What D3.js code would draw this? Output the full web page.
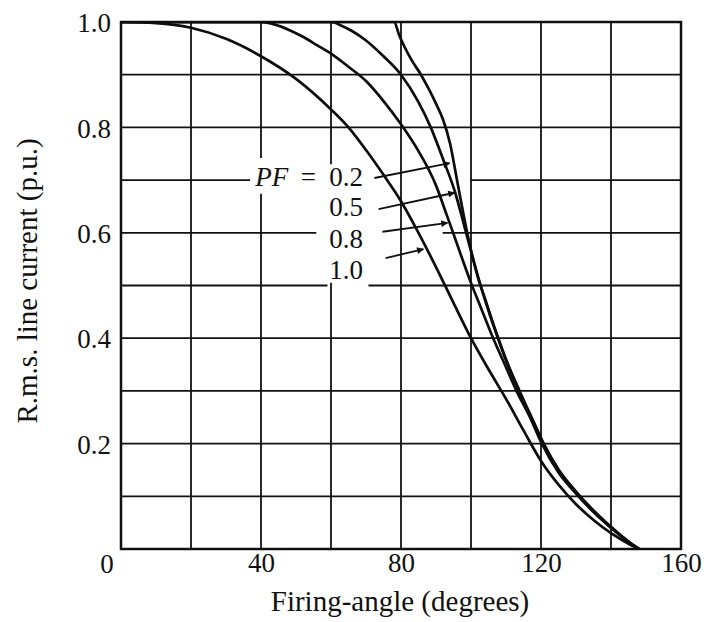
<!DOCTYPE html>
<html>
<head>
<meta charset="utf-8">
<script src="https://cdn.jsdelivr.net/npm/d3@7"></script>
<style>
  html, body { margin: 0; padding: 0; background: #fff; }
  svg { display: block; }
  text { font-family: "Liberation Serif", "Times New Roman", serif; fill: #111; }
</style>
</head>
<body>
<svg id="chart" width="709" height="622"></svg>
<script>
// ---------------- data ----------------
const xTickValues = [40, 80, 120, 160];
const yTickValues = [0.2, 0.4, 0.6, 0.8, 1.0];
const xGridValues = [20, 40, 60, 80, 100, 120, 140];
const yGridValues = [0.1, 0.2, 0.3, 0.4, 0.5, 0.6, 0.7, 0.8, 0.9];

// PF = 1.0
const pf10Angle   = [0, 10, 20, 30, 40, 50, 60, 65, 70, 75, 80, 85, 90, 95, 100, 105, 110, 115, 120, 125, 130, 135, 140, 145, 148];
const pf10Current = [1.0, 0.998, 0.989, 0.968, 0.935, 0.892, 0.834, 0.80, 0.757, 0.71, 0.66, 0.60, 0.535, 0.467, 0.40, 0.341, 0.285, 0.225, 0.167, 0.122, 0.085, 0.055, 0.03, 0.01, 0];
// PF = 0.8
const pf08Angle   = [0, 20, 40, 44, 48, 52, 56, 60, 65, 70, 75, 80, 85, 90, 93, 95, 97, 100, 103, 106, 110, 113, 117, 120, 125, 130, 135, 140, 145, 148];
const pf08Current = [1.0, 1.0, 1.0, 0.995, 0.985, 0.972, 0.956, 0.94, 0.915, 0.888, 0.85, 0.806, 0.755, 0.69, 0.635, 0.598, 0.56, 0.505, 0.455, 0.405, 0.345, 0.30, 0.248, 0.203, 0.145, 0.105, 0.07, 0.04, 0.013, 0];
// PF = 0.5
const pf05Angle   = [0, 20, 40, 60, 63, 66, 70, 75, 80, 85, 88.5, 92, 95.5, 98, 100, 102, 104, 107, 110, 114, 118, 121, 125, 130, 135, 140, 145, 148];
const pf05Current = [1.0, 1.0, 1.0, 1.0, 0.993, 0.983, 0.965, 0.935, 0.90, 0.848, 0.80, 0.74, 0.676, 0.615, 0.565, 0.515, 0.475, 0.415, 0.36, 0.298, 0.24, 0.197, 0.15, 0.108, 0.072, 0.041, 0.014, 0];
// PF = 0.2
const pf02Angle   = [0, 20, 40, 60, 78, 79.5, 81, 83, 85.7, 88, 90, 92, 94, 96, 98, 100, 102, 104, 107, 110, 114, 118, 121, 125, 130, 135, 140, 145, 148];
const pf02Current = [1.0, 1.0, 1.0, 1.0, 1.0, 0.975, 0.953, 0.928, 0.90, 0.872, 0.845, 0.815, 0.77, 0.70, 0.63, 0.567, 0.517, 0.473, 0.413, 0.358, 0.296, 0.238, 0.196, 0.151, 0.109, 0.073, 0.042, 0.014, 0];

const seriesNames = ["0.2", "0.5", "0.8", "1.0"];
// arrows (data coordinates): tail and head for each label
const arrowTailAngle = [72.4, 73.6, 74.7, 75.6];
const arrowTailValue = [0.704, 0.645, 0.602, 0.552];
const arrowHeadAngle = [93.9, 95.3, 93.3, 86.4];
const arrowHeadValue = [0.732, 0.676, 0.619, 0.569];
// label anchor (data coordinates)
const labelAngle = 59.5;
const labelValue = [0.689, 0.632, 0.572, 0.512];

// ---------------- drawing ----------------
const svg = d3.select("#chart");
const x = d3.scaleLinear().domain([0, 160]).range([121, 681]);
const y = d3.scaleLinear().domain([0, 1]).range([549, 22]);

// gaps in the grid (where the label block blanks the rulings)
const hGaps = new Map([[0.7, [[36.9, 100]]], [0.6, [[55.8, 91.9]]], [0.5, [[59.0, 70.7]]]]);
const vGaps = new Map([[40, [[0.674, 0.742]]], [60, [[0.505, 0.73]]]]);

function segs(lo, hi, gaps) {
  const out = [];
  let a = lo;
  (gaps || []).forEach(([g0, g1]) => { out.push([a, g0]); a = g1; });
  out.push([a, hi]);
  return out;
}

const grid = svg.append("g").attr("stroke", "#111").attr("stroke-width", 1.8);
yGridValues.forEach(v => {
  segs(0, 160, hGaps.get(v)).forEach(([a, b]) => {
    grid.append("line").attr("x1", x(a)).attr("x2", x(b)).attr("y1", y(v)).attr("y2", y(v));
  });
});
xGridValues.forEach(v => {
  segs(0, 1, vGaps.get(v)).forEach(([a, b]) => {
    grid.append("line").attr("x1", x(v)).attr("x2", x(v)).attr("y1", y(a)).attr("y2", y(b));
  });
});

// frame
svg.append("rect")
  .attr("x", x(0)).attr("y", y(1))
  .attr("width", x(160) - x(0)).attr("height", y(0) - y(1))
  .attr("fill", "none").attr("stroke", "#111").attr("stroke-width", 2.5);

// clip
svg.append("clipPath").attr("id", "plotclip").append("rect")
  .attr("x", x(0)).attr("y", y(1) - 1)
  .attr("width", x(160) - x(0)).attr("height", y(0) - y(1) + 2);

const seriesData = [
  d3.zip(pf02Angle, pf02Current),
  d3.zip(pf05Angle, pf05Current),
  d3.zip(pf08Angle, pf08Current),
  d3.zip(pf10Angle, pf10Current)
];

const line = d3.line().x(d => x(d[0])).y(d => y(d[1])).curve(d3.curveMonotoneX);
svg.append("g").attr("clip-path", "url(#plotclip)")
  .selectAll("path").data(seriesData).join("path")
  .attr("d", line)
  .attr("fill", "none").attr("stroke", "#0d0d0d")
  .attr("stroke-width", 2.7).attr("stroke-linejoin", "round");

// arrow marker
svg.append("defs").append("marker")
  .attr("id", "arrow").attr("viewBox", "0 0 10 10")
  .attr("refX", 9).attr("refY", 5)
  .attr("markerWidth", 13).attr("markerHeight", 7)
  .attr("markerUnits", "userSpaceOnUse")
  .attr("orient", "auto")
  .append("path").attr("d", "M0,0 L10,5 L0,10 Z").attr("fill", "#111");

svg.append("g").selectAll("line").data(seriesNames).join("line")
  .attr("x1", (d, i) => x(arrowTailAngle[i])).attr("y1", (d, i) => y(arrowTailValue[i]))
  .attr("x2", (d, i) => x(arrowHeadAngle[i])).attr("y2", (d, i) => y(arrowHeadValue[i]))
  .attr("stroke", "#111").attr("stroke-width", 1.8)
  .attr("marker-end", "url(#arrow)");

// labels
svg.append("g").selectAll("text").data(seriesNames).join("text")
  .attr("x", x(labelAngle)).attr("y", (d, i) => y(labelValue[i]))
  .attr("font-size", 27).text(d => d);
svg.append("text").attr("x", x(labelAngle) - 74).attr("y", y(labelValue[0]))
  .attr("font-size", 27).attr("font-style", "italic").text("PF");
svg.append("text").attr("x", x(labelAngle) - 21).attr("y", y(labelValue[0]))
  .attr("font-size", 27).attr("text-anchor", "middle").text("=");

// axes
const xAxis = d3.axisBottom(x).tickValues(xTickValues).tickSize(0).tickFormat(d3.format("d"));
const gx = svg.append("g").attr("transform", `translate(0,${y(0)})`).call(xAxis);
gx.select(".domain").remove();
gx.selectAll("text").attr("y", 23).attr("dy", 0)
  .attr("font-size", 27).attr("font-family", "Liberation Serif, serif").attr("fill", "#111");

const yAxis = d3.axisLeft(y).tickValues(yTickValues).tickSize(0).tickFormat(d3.format(".1f"));
const gy = svg.append("g").attr("transform", `translate(${x(0)},0)`).call(yAxis);
gy.select(".domain").remove();
gy.selectAll("text").attr("x", -10).attr("dy", "0.36em")
  .attr("font-size", 27).attr("font-family", "Liberation Serif, serif").attr("fill", "#111");

// corner zero
svg.append("text").attr("x", x(0) - 14).attr("y", y(0) + 24)
  .attr("text-anchor", "middle").attr("font-size", 27).text("0");

// axis titles
svg.append("text").attr("x", 400).attr("y", 611)
  .attr("text-anchor", "middle").attr("font-size", 29).text("Firing-angle (degrees)");
svg.append("text").attr("transform", "translate(37,281) rotate(-90)")
  .attr("text-anchor", "middle").attr("font-size", 29).text("R.m.s. line current (p.u.)");
</script>
</body>
</html>
